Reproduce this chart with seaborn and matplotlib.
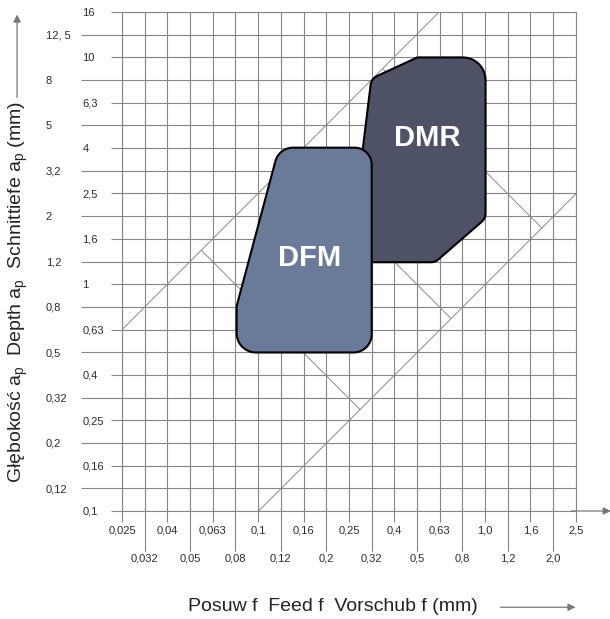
import numpy as np
import pandas as pd
import matplotlib
matplotlib.use('Agg')
import matplotlib.pyplot as plt
import seaborn as sns

# ── Scale labels (R10 series, shown with comma decimals) ──────────
x_labels = ['0,025', '0,032', '0,04', '0,05', '0,063', '0,08', '0,1', '0,12',
            '0,16', '0,2', '0,25', '0,32', '0,4', '0,5', '0,63', '0,8',
            '1,0', '1,2', '1,6', '2,0', '2,5']
y_labels = ['0,1', '0,12', '0,16', '0,2', '0,25', '0,32', '0,4', '0,5', '0,63',
            '0,8', '1', '1,2', '1,6', '2', '2,5', '3,2', '4', '5', '6,3', '8',
            '10', '12, 5', '16']

# ── Application areas (feed f, depth ap in mm) ────────────────────
dfm_f = [0.08, 0.08, 0.123, 0.315, 0.315]
dfm_ap = [0.5, 0.8, 4.0, 4.0, 0.5]
dmr_f = [0.25, 0.6, 1.0, 1.0, 0.5, 0.314]
dmr_ap = [1.25, 1.25, 1.95, 10.0, 10.0, 8.06]

# ── Guide lines ───────────────────────────────────────────────────
guide_f = [[0.025, 0.63], [0.1, 2.5], [0.056, 0.28],
           [0.141, 0.705], [0.353, 1.77]]
guide_ap = [[0.63, 16.0], [0.1, 2.5], [1.41, 0.28],
            [3.55, 0.705], [8.9, 1.77]]

x_ticks = 0.025 * 10 ** (np.arange(len(x_labels)) / 10)
y_ticks = 0.1 * 10 ** (np.arange(len(y_labels)) / 10)


def rounded(xs, ys, radii, n=16):
    # round the polygon corners in log space (that is what the eye sees)
    P = np.column_stack([np.log10(xs), np.log10(ys)])
    out = []
    for i in range(len(P)):
        p0, p1, p2 = P[i - 1], P[i], P[(i + 1) % len(P)]
        r = radii[i]
        if r == 0:
            out.append(p1)
            continue
        u1 = (p0 - p1) / np.linalg.norm(p0 - p1)
        u2 = (p2 - p1) / np.linalg.norm(p2 - p1)
        th = np.arccos(np.clip(u1 @ u2, -1, 1))
        t = r / np.tan(th / 2)
        bis = (u1 + u2) / np.linalg.norm(u1 + u2)
        c = p1 + bis * r / np.sin(th / 2)
        a, b = p1 + u1 * t, p1 + u2 * t
        aa = np.arctan2(*(a - c)[::-1])
        ab = np.arctan2(*(b - c)[::-1])
        d = (ab - aa + np.pi) % (2 * np.pi) - np.pi
        for s in np.linspace(0, 1, n):
            ang = aa + d * s
            out.append(c + r * np.array([np.cos(ang), np.sin(ang)]))
    out = np.array(out)
    return 10 ** out[:, 0], 10 ** out[:, 1]


sns.set_theme(style='white')
plt.rcParams['font.family'] = ['Liberation Sans', 'DejaVu Sans']

fig = plt.figure(figsize=(6.10, 6.19), dpi=100)
ax = fig.add_axes([0.2, 0.1745, 0.744, 0.806])
ax.set_xscale('log')
ax.set_yscale('log')
ax.set_xlim(x_ticks[0], x_ticks[-1])
ax.set_ylim(y_ticks[0], y_ticks[-1])

grey = '#858585'
ax.set_xticks(x_ticks[::2], x_labels[::2])
ax.set_xticks(x_ticks[1::2], x_labels[1::2], minor=True)
ax.set_yticks(y_ticks[::2], y_labels[::2])
ax.set_yticks(y_ticks[1::2], y_labels[1::2], minor=True)
ax.tick_params(which='both', color=grey, width=0.8, labelsize=8,
               labelcolor='#2a2a2a', bottom=True, left=True, direction='out')
ax.tick_params(axis='x', which='major', length=7.9, pad=2.3)
ax.tick_params(axis='x', which='minor', length=28.8, pad=1.8)
ax.tick_params(axis='y', which='major', length=7.9, pad=20.5)
ax.tick_params(axis='y', which='minor', length=29.5, pad=25.5)
for lab in ax.get_yticklabels(which='both'):
    lab.set_horizontalalignment('left')
ax.grid(which='both', color=grey, lw=0.8)
ax.set_axisbelow(True)
for sp in ax.spines.values():
    sp.set_color(grey)
    sp.set_linewidth(0.8)

# guide lines
for gf, ga in zip(guide_f, guide_ap):
    seg = pd.DataFrame({'f': gf, 'ap': ga})
    sns.lineplot(data=seg, x='f', y='ap', ax=ax, color='#8a8a8a', lw=0.7,
                 sort=False, estimator=None, zorder=2)

# application areas
rx, ry = rounded(dmr_f, dmr_ap, [0, 0.05, 0.05, 0.1, 0.02, 0.05])
ax.fill(rx, ry, facecolor='#4e5267', edgecolor='black', lw=1.5, zorder=3)
rx, ry = rounded(dfm_f, dfm_ap, [0.085, 0.05, 0.08, 0.075, 0.08])
ax.fill(rx, ry, facecolor='#6a7a99', edgecolor='black', lw=1.5, zorder=4)
ax.text(0.168, 1.30, 'DFM', color='white', fontsize=21, fontweight='bold',
        ha='center', va='center', zorder=5)
ax.text(0.552, 4.41, 'DMR', color='white', fontsize=21, fontweight='bold',
        ha='center', va='center', zorder=5)
ax.set_xlabel('')
ax.set_ylabel('')

# axis arrows and titles
ax.annotate('', xy=(1.077, 0), xytext=(0.99, 0), xycoords='axes fraction',
            arrowprops=dict(arrowstyle='-|>', color='#777777', lw=0.9,
                            mutation_scale=11, shrinkA=0, shrinkB=0))
fig.patches.append(matplotlib.patches.FancyArrowPatch(
    (0.816, 0.019), (0.948, 0.019), transform=fig.transFigure,
    arrowstyle='-|>', color='#777777', lw=0.9, mutation_scale=11))
fig.patches.append(matplotlib.patches.FancyArrowPatch(
    (0.028, 0.838), (0.028, 0.981), transform=fig.transFigure,
    arrowstyle='-|>', color='#777777', lw=0.9, mutation_scale=11))
fig.text(0.546, 0.021, 'Posuw f  Feed f  Vorschub f (mm)', fontsize=14,
         color='#222222', ha='center', va='center')
fig.text(0.03, 0.528,
         r'Głębokość a$\mathregular{_p}$  Depth a$\mathregular{_p}$  '
         r'Schnittiefe a$\mathregular{_p}$ (mm)',
         fontsize=14, color='#222222', ha='center', va='center',
         rotation=90)

fig.savefig('out.png', dpi=100)
